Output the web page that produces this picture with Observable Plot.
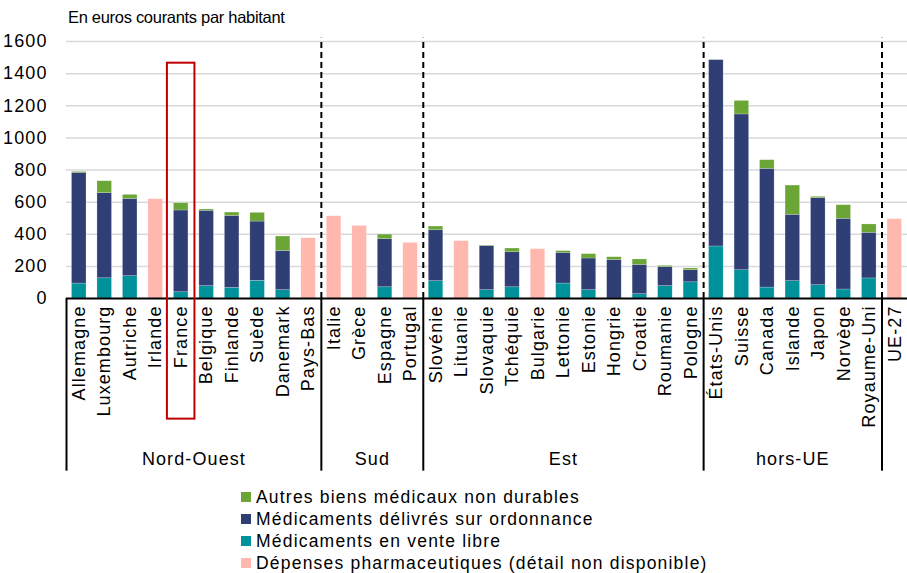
<!DOCTYPE html>
<html><head><meta charset="utf-8">
<script src="https://cdn.jsdelivr.net/npm/d3@7"></script>
<script src="https://cdn.jsdelivr.net/npm/@observablehq/plot@0.6"></script>
<style>
body{margin:0;background:#fff;font-family:"Liberation Sans",Arial,sans-serif;color:#000;width:907px;}
#title{height:30px;padding-left:68px;font-size:16.5px;letter-spacing:-0.3px;line-height:34px;}
#legend{margin-left:241px;margin-top:1px;font-size:17.5px;letter-spacing:1.2px;}
.row{height:22px;line-height:22px;display:flex;align-items:center;white-space:nowrap;}
.sw{width:10px;height:10px;margin-right:5px;flex:none;}
svg text{letter-spacing:1.1px;}
</style></head>
<body>
<div id="title">En euros courants par habitant</div>
<div id="chart"></div>
<div id="legend"></div>
<script>
const countries = ["Allemagne","Luxembourg","Autriche","Irlande","France","Belgique","Finlande","Suède","Danemark","Pays-Bas",
  "Italie","Grèce","Espagne","Portugal",
  "Slovénie","Lituanie","Slovaquie","Tchéquie","Bulgarie","Lettonie","Estonie","Hongrie","Croatie","Roumanie","Pologne",
  "États-Unis","Suisse","Canada","Islande","Japon","Norvège","Royaume-Uni","UE-27"];
const regions = ["Nord-Ouest","Nord-Ouest","Nord-Ouest","Nord-Ouest","Nord-Ouest","Nord-Ouest","Nord-Ouest","Nord-Ouest","Nord-Ouest","Nord-Ouest",
  "Sud","Sud","Sud","Sud",
  "Est","Est","Est","Est","Est","Est","Est","Est","Est","Est","Est",
  "hors-UE","hors-UE","hors-UE","hors-UE","hors-UE","hors-UE","hors-UE","UE-27"];
// Médicaments en vente libre
const otc = [93,126,139,null,39,77,66,110,52,null, null,null,70,null, 108,null,52,70,null,93,52,0,27,77,101, 324,176,68,108,83,56,125,null];
// Médicaments délivrés sur ordonnance
const rx = [689,530,481,null,509,469,448,369,244,null, null,null,299,null, 317,null,274,218,null,191,197,240,182,118,75, 1160,970,739,413,542,440,284,null];
// Autres biens médicaux non durables
const other = [6,74,25,null,45,8,21,54,90,null, null,null,29,null, 23,null,3,23,null,11,27,17,34,8,11, 0,84,54,182,8,85,52,null];
// Dépenses pharmaceutiques (détail non disponible)
const total = [null,null,null,618,null,null,null,null,null,375, 512,452,null,346, null,357,null,null,307,null,null,null,null,null,null, null,null,null,null,null,null,null,494];
const yTicks = [0,200,400,600,800,1000,1200,1400,1600];
const highlighted = "France";

const seriesNames = ["Médicaments en vente libre","Médicaments délivrés sur ordonnance","Autres biens médicaux non durables","Dépenses pharmaceutiques (détail non disponible)"];
const seriesColors = ["#00929A","#2F3E75","#6AA535","#FFB7AE"];
const legendOrder = [2,1,0,3];

const rows = [];
countries.forEach((c,i)=>{
  [otc[i],rx[i],other[i],total[i]].forEach((v,k)=>{
    if (v != null && v > 0) rows.push({country:c, series:seriesNames[k], value:v});
  });
});

const W = 907, H = 455, ML = 66, MR = 0, MT = 11, MB = 187;
const step = (W - ML - MR) / countries.length;

const groups = [];
regions.forEach((r,i)=>{
  const g = groups[groups.length-1];
  if (g && g.name === r) g.last = i; else groups.push({name:r, first:i, last:i});
});
const boundaries = groups.slice(1).map(g => countries[g.first]);
const labelled = groups.filter(g => g.name !== "UE-27");

const chart = Plot.plot({
  width: W, height: H,
  marginLeft: ML, marginRight: MR, marginTop: MT, marginBottom: MB,
  style: {fontFamily: '"Liberation Sans", Arial, sans-serif', fontSize: "18px", color: "#000", background: "#fff"},
  x: {domain: countries, paddingInner: 0.43, paddingOuter: 0.215, round: false, label: null},
  y: {domain: [0,1600], label: null},
  color: {domain: seriesNames, range: seriesColors},
  marks: [
    Plot.ruleY(yTicks.filter(d=>d>0), {stroke:"#d9d9d9", strokeWidth:1.5}),
    Plot.axisY({ticks: yTicks, tickSize: 0, tickPadding: 19, tickFormat: d => String(d), label: null, fontSize: 18}),
    Plot.barY(rows, {x:"country", y:"value", fill:"series", order: seriesNames, stroke:"#fff", strokeOpacity:0.35, strokeWidth:0.6}),
    Plot.ruleX(boundaries, {x: d=>d, dx: -step/2, y1: 0, y2: 1620, stroke:"#000", strokeWidth:2, strokeDasharray:"6,4"}),
    Plot.ruleX([countries[0], ...boundaries], {x: d=>d, dx: -step/2, y1: 0, y2: -1075, stroke:"#000", strokeWidth:2}),
    Plot.ruleY([0], {stroke:"#000", strokeWidth:2}),
    Plot.axisX({tickRotate: -90, tickSize: 0, tickPadding: 7, label: null, fontSize: 18}),
    ...labelled.map(g => Plot.text([g], {x: () => countries[g.first], dx: (g.last - g.first) / 2 * step, y: () => -1000, text: "name", fontSize: 18})),
    Plot.barY([highlighted], {x: d=>d, y1: () => -751, y2: () => 1465, fill:"none", stroke:"#C00000", strokeWidth:2, insetLeft:-6.5, insetRight:-6.5})
  ]
});
document.getElementById("chart").appendChild(chart);

const legend = document.getElementById("legend");
legendOrder.forEach(k => {
  const row = document.createElement("div");
  row.className = "row";
  const sw = document.createElement("span");
  sw.className = "sw";
  sw.style.background = seriesColors[k];
  const label = document.createElement("span");
  label.textContent = seriesNames[k];
  row.appendChild(sw); row.appendChild(label);
  legend.appendChild(row);
});
</script>
</body></html>
